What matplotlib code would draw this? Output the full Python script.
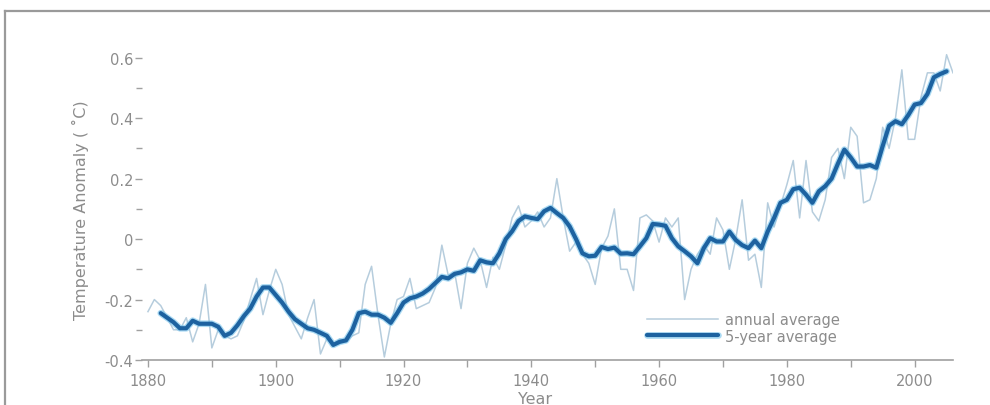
import matplotlib
import matplotlib.pyplot as plt
import matplotlib.patheffects as pe
import numpy as np
from matplotlib.lines import Line2D
from matplotlib.ticker import MultipleLocator

matplotlib.use("Agg")

# global temperature anomaly, deg C, one value per year 1880-2006
annual_years = np.arange(1880, 2007)
annual_anomaly = [
    -0.24, -0.20, -0.22, -0.26, -0.30, -0.30, -0.26, -0.34, -0.28, -0.15,  # 1880s
    -0.36, -0.30, -0.32, -0.33, -0.32, -0.27, -0.20, -0.13, -0.25, -0.17,  # 1890s
    -0.10, -0.15, -0.25, -0.29, -0.33, -0.26, -0.20, -0.38, -0.33, -0.35,  # 1900s
    -0.33, -0.34, -0.32, -0.31, -0.15, -0.09, -0.25, -0.39, -0.28, -0.20,  # 1910s
    -0.19, -0.13, -0.23, -0.22, -0.21, -0.16, -0.02, -0.12, -0.11, -0.23,  # 1920s
    -0.08, -0.03, -0.07, -0.16, -0.06, -0.10, -0.02, 0.07, 0.11, 0.04,     # 1930s
    0.06, 0.09, 0.04, 0.07, 0.20, 0.07, -0.04, -0.01, -0.05, -0.08,        # 1940s
    -0.15, -0.03, 0.01, 0.10, -0.10, -0.10, -0.17, 0.07, 0.08, 0.06,       # 1950s
    -0.01, 0.07, 0.04, 0.07, -0.20, -0.10, -0.05, -0.02, -0.05, 0.07,      # 1960s
    0.03, -0.10, 0.00, 0.13, -0.07, -0.05, -0.16, 0.12, 0.04, 0.11,        # 1970s
    0.18, 0.26, 0.07, 0.26, 0.09, 0.06, 0.13, 0.27, 0.30, 0.20,            # 1980s
    0.37, 0.34, 0.12, 0.13, 0.20, 0.37, 0.30, 0.40, 0.56, 0.33,            # 1990s
    0.33, 0.47, 0.55, 0.55, 0.49, 0.61, 0.55,                              # 2000s
]

# 5-year running mean, 1882-2005
smooth_years = np.arange(1882, 2006)
five_year_anomaly = [
    -0.245, -0.26, -0.275, -0.295, -0.295, -0.27, -0.28, -0.28,
    -0.28, -0.29, -0.32, -0.31, -0.285, -0.255, -0.23, -0.19, -0.16, -0.16,
    -0.185, -0.21, -0.24, -0.265, -0.28, -0.295, -0.30, -0.31, -0.32, -0.35,
    -0.34, -0.335, -0.30, -0.245, -0.24, -0.25, -0.25, -0.26, -0.277, -0.245,
    -0.21, -0.196, -0.19, -0.18, -0.165, -0.145, -0.125, -0.13, -0.115, -0.11,
    -0.10, -0.105, -0.07, -0.077, -0.08, -0.047, 0.0, 0.026, 0.06, 0.075,
    0.07, 0.066, 0.092, 0.103, 0.086, 0.07, 0.042, 0.0, -0.047, -0.057,
    -0.055, -0.026, -0.033, -0.028, -0.048, -0.047, -0.05, -0.024, 0.003, 0.05,
    0.048, 0.044, 0.003, -0.024, -0.04, -0.057, -0.08, -0.03, 0.003, -0.008,
    -0.008, 0.025, -0.003, -0.02, -0.03, -0.005, -0.03, 0.025, 0.07, 0.12,
    0.13, 0.165, 0.17, 0.147, 0.12, 0.158, 0.175, 0.20, 0.25, 0.296,
    0.27, 0.24, 0.24, 0.245, 0.236, 0.308, 0.375, 0.39, 0.38, 0.41,
    0.445, 0.45, 0.48, 0.535, 0.546, 0.555,
]

GREY = "#8c8c8c"
ANNUAL_COLOR = "#b6cddd"
SMOOTH_COLOR = "#1d62a0"
HALO_COLOR = "#72c2ec"

plt.rcParams["font.family"] = ["DejaVu Sans"]

fig = plt.figure(figsize=(9.9, 4.06), dpi=100)
ax = fig.add_axes([0.143, 0.1108, 0.8196, 0.7818])

ax.plot(annual_years, annual_anomaly, color=ANNUAL_COLOR, lw=1.1,
        label="annual average", zorder=2)
ax.plot(smooth_years, five_year_anomaly, color=SMOOTH_COLOR, lw=3.0,
        solid_capstyle="round", label="5-year average", zorder=3,
        path_effects=[pe.Stroke(linewidth=4.8, foreground=HALO_COLOR, alpha=0.6),
                      pe.Normal()])

ax.set_xlim(1879, 2006)
ax.set_ylim(-0.4, 0.65)

for side in ("top", "right", "left"):
    ax.spines[side].set_visible(False)
ax.spines["bottom"].set_color("#a0a0a0")
ax.spines["bottom"].set_linewidth(1.2)

ax.set_xticks([1880, 1900, 1920, 1940, 1960, 1980, 2000])
ax.xaxis.set_minor_locator(MultipleLocator(10))
ax.set_yticks([-0.4, -0.2, 0, 0.2, 0.4, 0.6])
ax.set_yticklabels(["-0.4", "-0.2", "0", "0.2", "0.4", "0.6"])
ax.yaxis.set_minor_locator(MultipleLocator(0.1))

ax.tick_params(axis="x", which="both", colors="#a0a0a0", labelcolor=GREY,
               labelsize=10.5, direction="out", length=5, width=1, pad=4)
ax.tick_params(axis="y", which="major", colors="#a0a0a0", labelcolor=GREY,
               labelsize=10.5, direction="out", length=5, width=1, pad=1)
ax.tick_params(axis="y", which="minor", colors="#a0a0a0",
               direction="out", length=4, width=1)

ax.set_ylabel("Temperature Anomaly ( \u02daC)", color=GREY, fontsize=11.5)
ax.yaxis.set_label_coords(-0.065, 0.476)
ax.set_xlabel("Year", color=GREY, fontsize=11.5)
ax.xaxis.set_label_coords(0.485, -0.098)

leg = ax.legend(loc="upper left", bbox_to_anchor=(0.6225, 0.151), frameon=False,
                fontsize=10.5, handlelength=4.9, handletextpad=0.45,
                labelspacing=0.1, borderpad=0, borderaxespad=0)
for txt in leg.get_texts():
    txt.set_color(GREY)

# thin grey frame along the top and left edge of the canvas
fx = 5 / 990
fy = 1 - 12 / 406
fig.add_artist(Line2D([fx, 1], [fy, fy], transform=fig.transFigure,
                      color="#9a9a9a", lw=1.6))
fig.add_artist(Line2D([fx, fx], [0, fy], transform=fig.transFigure,
                      color="#9a9a9a", lw=1.6))

fig.savefig("out.png", dpi=100)
